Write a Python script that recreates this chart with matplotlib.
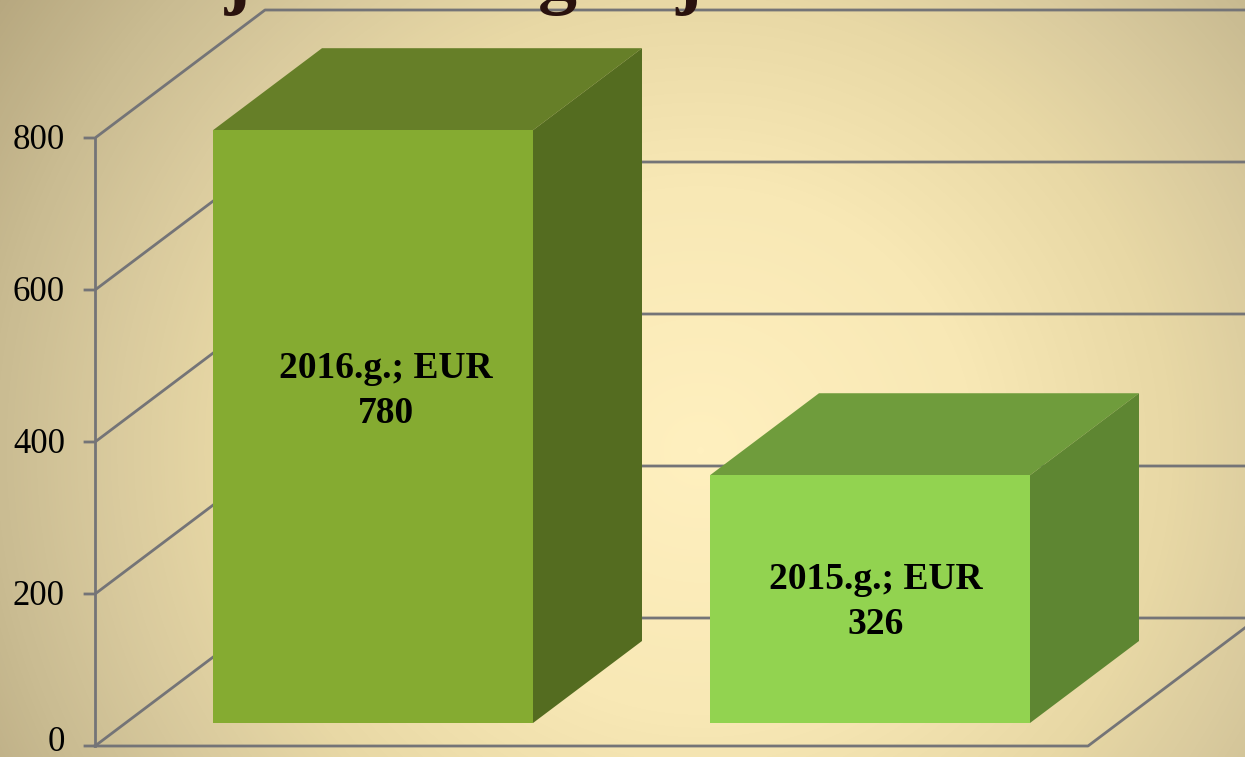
import matplotlib
matplotlib.use("Agg")
import matplotlib.pyplot as plt
import numpy as np
from matplotlib.colors import LinearSegmentedColormap
from matplotlib.patches import Polygon

years = ["2016.g.", "2015.g."]
values = [780, 326]
ticks = [0, 200, 400, 600, 800]
title = "maksātajām nadogetājām – 2016. no de"

W, H = 1245, 757
PX = 0.76  # pixels per EUR
Y0 = 746  # pixel row of the value 0

bar_left = [213, 710]
bar_width = 320
bar_colors = [("#85AB31", "#667F28", "#546C20"), ("#92D350", "#6F9C3C", "#5E8632")]
label_x = [386, 876]
label_row = [391, 602]


def val_y(pixel_row):
    return (Y0 - pixel_row) / PX


fig = plt.figure(figsize=(W / 100, H / 100), dpi=100)
ax = fig.add_axes([0, 0, 1, 1])
ax.set_xlim(0, W)
ax.set_ylim(val_y(H), val_y(0))
ax.axis("off")

# background glow
xx, yy = np.meshgrid(np.arange(W), np.arange(H))
r = np.hypot((xx - 700) / 780, (yy - 450) / 750) / 1.1
cmap = LinearSegmentedColormap.from_list(
    "bg", [(0, "#FFF0BF"), (0.32, "#F8E8B5"), (0.55, "#E8D8A5"), (0.68, "#DACB9E"),
           (0.82, "#CABC92"), (1, "#B5A67E")]
)
ax.imshow(r.clip(0, 1), cmap=cmap, vmin=0, vmax=1, aspect="auto",
          extent=(0, W, val_y(H), val_y(0)), zorder=0)

# walls and floor
grid = "#747477"
wall_dx, wall_dy = 170, 128 / PX
for t in ticks:
    ax.plot([85, 95, 95 + wall_dx, W + 20], [t, t, t + wall_dy, t + wall_dy],
            color=grid, lw=2, zorder=1)
ax.plot([95, 95], [0, ticks[-1]], color=grid, lw=2, zorder=1)
ax.plot([95, 1088, 1088 + wall_dx], [0, 0, wall_dy], color=grid, lw=2, zorder=1)

# bars
dx, dy = 109, 82 / PX
base = val_y(723)
for left, v, (front, top, side) in zip(bar_left, values, bar_colors):
    right = left + bar_width
    ytop = base + v
    ax.add_patch(Polygon([(left, ytop), (right, ytop), (right + dx, ytop + dy), (left + dx, ytop + dy)],
                         fc=top, ec="none", zorder=2))
    ax.add_patch(Polygon([(right, base), (right + dx, base + dy), (right + dx, ytop + dy), (right, ytop)],
                         fc=side, ec="none", zorder=2))
    ax.bar(left, v, bottom=base, width=bar_width, align="edge", color=front, zorder=3)

for year, v, lx, row in zip(years, values, label_x, label_row):
    ax.text(lx, val_y(row), f"{year}; EUR\n{v}", ha="center", va="center",
            family="Liberation Serif", weight="bold", fontsize=27, color="black",
            linespacing=1.36, zorder=4)

# tick labels
for t in ticks:
    ax.text(65, max(t - 3, 4), str(t), ha="right", va="center", family="Liberation Serif",
            fontsize=25, color="black", zorder=4)

# title, cut off by the top edge
ax.text(-56, val_y(-1), title, ha="left", va="baseline", family="Liberation Serif",
        weight="bold", fontsize=56, color="#2A120E", zorder=4)

fig.savefig("out.png", dpi=100)
plt.close(fig)
